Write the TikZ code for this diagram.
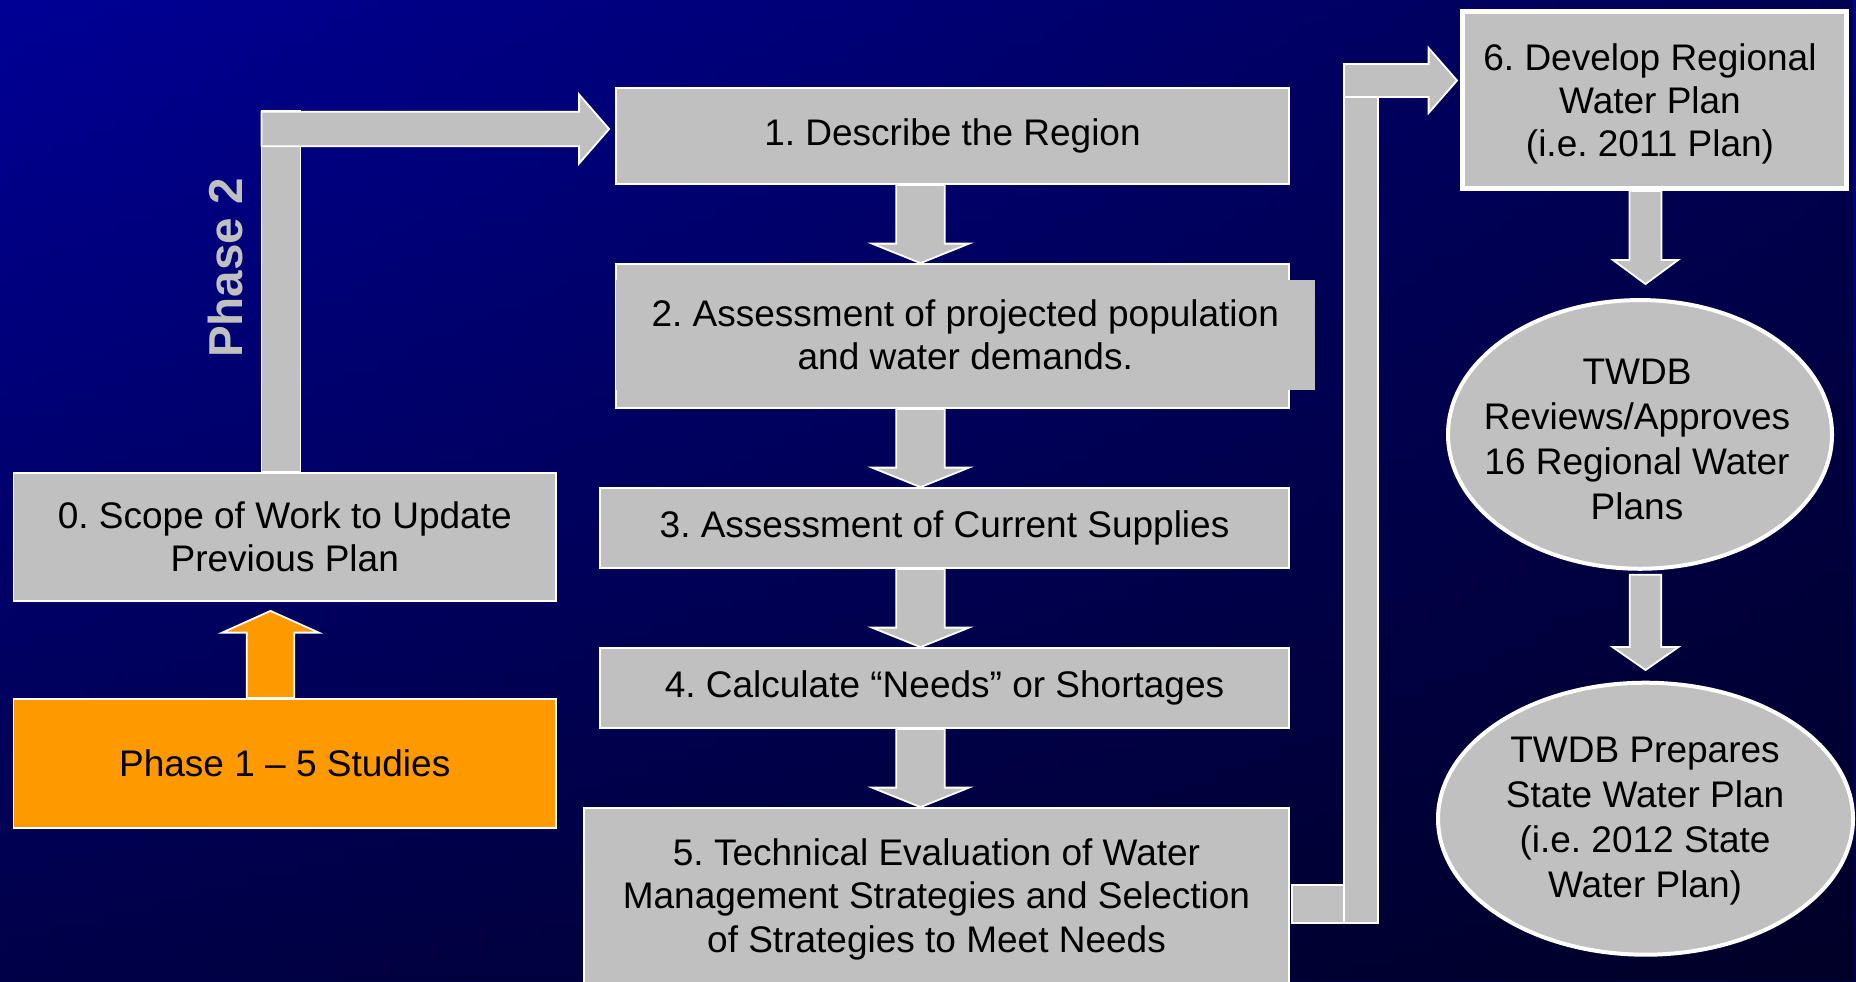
\documentclass[tikz,border=0pt]{standalone}
\usepackage{fontspec}
\setmainfont{Liberation Sans}
\usetikzlibrary{calc,shapes.geometric,fadings}
\definecolor{boxgray}{RGB}{192,192,192}
\definecolor{phorange}{RGB}{255,153,0}
\definecolor{bgtop}{RGB}{0,0,150}
\definecolor{bgbot}{RGB}{0,0,72}
\tikzfading[name=darkright, left color=transparent!100, right color=transparent!0]
% block arrow: #1 start, #2 tip, #3 shaft half width, #4 head half width, #5 head length, #6 style
\newcommand\blockarrow[6]{%
  \coordinate (bahb) at ($(#2)!#5!(#1)$);
  \path[#6] ($(#1)!#3!90:(#2)$) -- ($(bahb)!#3!90:(#2)$) -- ($(bahb)!#4!90:(#2)$) -- (#2)
    -- ($(bahb)!#4!-90:(#2)$) -- ($(bahb)!#3!-90:(#2)$) -- ($(#1)!#3!-90:(#2)$) -- cycle;
}
\tikzset{
  box/.style={rectangle, draw=white, fill=boxgray, line width=0.9pt, inner sep=0pt,
    align=center, text=black, font=\fontsize{18.5pt}{21.75pt}\selectfont},
  ell/.style={ellipse, draw=white, fill=boxgray, line width=2pt, inner sep=0pt},
  etext/.style={align=center, text=black, inner sep=0pt, font=\fontsize{18.5pt}{22.5pt}\selectfont},
  blk/.style={fill=boxgray, draw=white, line width=0.9pt, line join=miter},
  oblk/.style={fill=phorange, draw=white, line width=0.9pt, line join=miter},
}
\frenchspacing
\begin{document}
\begin{tikzpicture}[x=0.5pt, y=-0.5pt]
\useasboundingbox (0,0) rectangle (1856,981);
\clip (0,0) rectangle (1856,981);
% background
\shade[top color=bgtop, bottom color=bgbot] (0,0) rectangle (1856,981);
\fill[black, path fading=darkright, fill opacity=0.45] (0,0) rectangle (1856,981);

% boxes
\node[box, minimum width=271.25pt, minimum height=64pt] (b0) at (284.75,537) {0. Scope of Work to Update\\Previous Plan};
\node[box, fill=phorange, minimum width=271.25pt, minimum height=64.5pt] (ph1) at (284.75,763.5) {Phase 1 -- 5 Studies};
\node[box, minimum width=336.5pt, minimum height=48pt] (b1) at (952.5,136) {1. Describe the Region};
\node[box, minimum width=336.5pt, minimum height=72pt] (b2) at (952.5,336) {};
\node[box, draw=none, minimum width=349.75pt, minimum height=55pt] (b2t) at (965.25,335) {2. Assessment of projected population\\and water demands.};
\node[box, minimum width=344.5pt, minimum height=40pt] (b3) at (944.5,528) {3. Assessment of Current Supplies};
\node[box, minimum width=344.5pt, minimum height=40pt] (b4) at (944.5,688) {4. Calculate “Needs” or Shortages};
\node[box, minimum width=352.5pt, minimum height=91pt] (b5) at (936.5,899) {5. Technical Evaluation of Water\\Management Strategies and Selection\\of Strategies to Meet Needs};
\node[box, line width=2.5pt, minimum width=192pt, minimum height=88.5pt] (b6) at (1654.5,100) {};
\node[etext, font=\fontsize{18.5pt}{21.5pt}\selectfont] (b6t) at (1650,104) {6. Develop Regional\\Water Plan\\(i.e. 2011 Plan)};
\node[ell, minimum width=192pt, minimum height=134.35pt] (e1) at (1640,434.4) {};
\node[etext] (e1t) at (1637,439) {TWDB\\Reviews/Approves\\16 Regional Water\\Plans};
\node[ell, minimum width=207.5pt, minimum height=136pt] (e2) at (1645.5,818.7) {};
\node[etext] (e2t) at (1645,821) {TWDB Prepares\\State Water Plan\\(i.e. 2012 State\\Water Plan)};

% Phase 2 label
\node[rotate=90, text=boxgray, inner sep=0pt, font=\bfseries\fontsize{23.8pt}{28pt}\selectfont] (ph2) at (225,268) {Phase 2};

% Phase 2 bent arrow: box 0 -> box 1
\coordinate (p2) at (281,129);
\path[blk] ($(b0.north -| p2)+(-19.5,0)$) rectangle ($(p2)+(19.5,-18.5)$);
\coordinate (p2s) at ($(p2)+(-19.5,0)$);
\coordinate (p2e) at ($(b1.west |- p2)+(-6,0)$);
\blockarrow{p2s}{p2e}{8.6pt}{17.25pt}{15pt}{blk}

% orange arrow: phase 1 -> box 0
\coordinate (cO) at (270.5,0);
\coordinate (os) at (ph1.north -| cO);
\coordinate (oe) at ($(b0.south -| cO)+(0,9)$);
\blockarrow{os}{oe}{11.9pt}{24.15pt}{10.85pt}{oblk}

% central column arrows
\coordinate (cA) at (920.5,0);
\coordinate (a1s) at (b1.south -| cA);
\coordinate (a1e) at (b2.north -| cA);
\blockarrow{a1s}{a1e}{12.1pt}{24.25pt}{9.75pt}{blk}
\coordinate (a2s) at (b2.south -| cA);
\coordinate (a2e) at (b3.north -| cA);
\blockarrow{a2s}{a2e}{12.1pt}{24.25pt}{9.75pt}{blk}
\coordinate (a3s) at (b3.south -| cA);
\coordinate (a3e) at (b4.north -| cA);
\blockarrow{a3s}{a3e}{12.1pt}{24.25pt}{9.75pt}{blk}
\coordinate (a4s) at (b4.south -| cA);
\coordinate (a4e) at (b5.north -| cA);
\blockarrow{a4s}{a4e}{12.1pt}{24.25pt}{9.75pt}{blk}

% bent arrow: box 5 -> box 6
\coordinate (q) at (1361,80.5);
\coordinate (qb) at (1361,903.85);
\path[blk] ($(qb)+(-16.7,18.85)$) rectangle ($(q)+(16.7,-16.5)$);
\path[blk] ($(b5.east |- qb)+(2.2,-18.85)$) rectangle ($(qb)+(-16.7,18.85)$);
\coordinate (q1) at ($(q)+(-16.7,0)$);
\coordinate (q2) at ($(b6.west |- q)+(-3,0)$);
\blockarrow{q1}{q2}{8.25pt}{16.25pt}{14.2pt}{blk}

% right column arrows
\coordinate (cR) at (1645.5,0);
\coordinate (r1s) at (b6.south -| cR);
\coordinate (r1e) at ($(e1.north -| cR)+(0,-14)$);
\blockarrow{r1s}{r1e}{8pt}{16.25pt}{12pt}{blk}
\coordinate (r2s) at ($(e1.south -| cR)+(0,4)$);
\coordinate (r2e) at ($(e2.north -| cR)+(0,-10.7)$);
\blockarrow{r2s}{r2e}{7.9pt}{16.5pt}{11.5pt}{blk}
\end{tikzpicture}
\end{document}
